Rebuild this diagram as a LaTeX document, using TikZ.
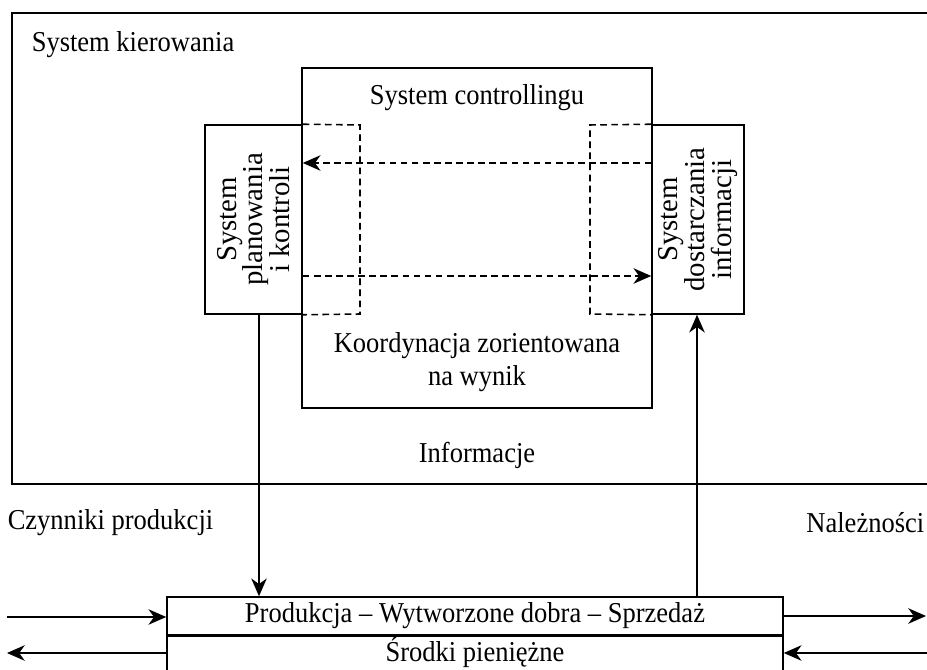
\documentclass[tikz,border=0pt]{standalone}
\usepackage{fontspec}
\setmainfont{Liberation Serif}[FakeStretch=0.92]
\newfontfamily\upright{Liberation Serif}
\usetikzlibrary{arrows.meta}
\def\px{0.01585cm}

\begin{document}
\begin{tikzpicture}[x=\px, y=-\px, line width=0.7pt,
  font=\fontsize{13}{14}\selectfont,
  >={Stealth[length=8pt,width=7pt,inset=2.5pt]},
  box/.style={draw, inner sep=0pt},
  txt/.style={inner sep=0pt},
  sidetxt/.style={inner sep=0pt, rotate=90, align=center, font=\upright\fontsize{13}{12}\selectfont},
  dashline/.style={dash pattern=on 3pt off 2pt}]
\clip (0,0) rectangle (927,670);
% System kierowania
\draw[line width=0.5pt] (940,13) -- (12,13) -- (12,484) -- (940,484);
\node[txt, anchor=west] (kier) at (31,45) {System kierowania};
% controlling
\node[box, minimum width=350*\px, minimum height=340*\px] (ctrl) at (477,238) {};
\node[txt] (ctrltxt) at (477,98) {System controllingu};
\node[txt, align=center] (koord) at (477,362) {Koordynacja zorientowana\\[1pt]na wynik};
\node[txt] (infor) at (477,455) {Informacje};
\node[box, minimum width=97*\px, minimum height=189*\px] (plan) at (253.5,219.5) {};
\node[sidetxt] (plantxt) at (plan) {System\\planowania\\i kontroli};
\node[box, minimum width=92*\px, minimum height=189*\px] (info) at (698,219.5) {};
\node[sidetxt] (infotxt) at (info) {System\\dostarczania\\informacji};
\draw[dashline] (plan.north east) -- (360,125) -- (360,314) -- (plan.south east);
\draw[dashline] (info.north west) -- (590,125) -- (590,314) -- (info.south west);
\draw[dashline, ->] (info.west |- 0,163) -- (plan.east |- 0,163);
\draw[dashline, ->] (plan.east |- 0,276) -- (info.west |- 0,276);
% production
\node[txt, anchor=west] (czyn) at (7,523) {Czynniki produkcji};
\node[txt, anchor=east] (nal) at (925,523) {Należności};
\node[box, minimum width=616*\px, minimum height=38*\px] (prod) at (475,616) {Produkcja – Wytworzone dobra – Sprzedaż};
\node[box, minimum width=616*\px, minimum height=50*\px, anchor=north] (cash) at (prod.south) {};
\node[txt] (cashtxt) at (475,652) {Środki pieniężne};
\draw[->] (plan.south -| 259,0) -- (prod.north -| 259,0);
\draw[->] (prod.north -| 697,0) -- (info.south -| 697,0);
\coordinate (lin) at (7,617);
\coordinate (lout) at (7,653);
\coordinate (rout) at (926,616);
\coordinate (rin) at (927,653);
\draw[->] (lin) -- (prod.west |- lin);
\draw[->] (cash.west |- lout) -- (lout);
\draw[->] (prod.east |- rout) -- (rout);
\draw[->] (rin) -- (cash.east |- rin);
\end{tikzpicture}
\end{document}
